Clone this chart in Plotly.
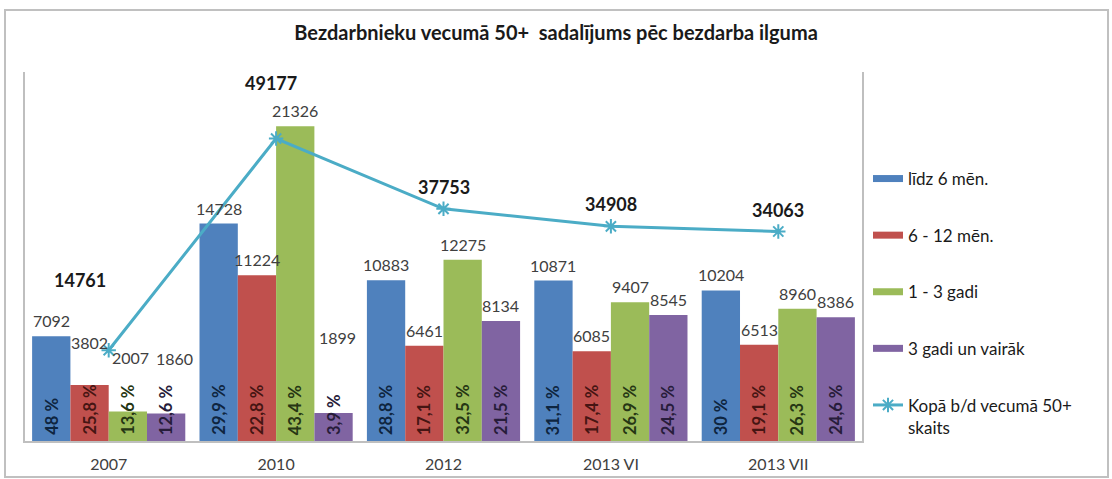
import plotly.graph_objects as go

categories = ["2007", "2010", "2012", "2013 VI", "2013 VII"]
series_names = ["līdz 6 mēn.", "6 - 12 mēn.", "1 - 3 gadi", "3 gadi un vairāk"]
lidz6 = [7092, 14728, 10883, 10871, 10204]
m6_12 = [3802, 11224, 6461, 6085, 6513]
g1_3 = [2007, 21326, 12275, 9407, 8960]
g3plus = [1860, 1899, 8134, 8545, 8386]
pct_lidz6 = ["48 %", "29,9 %", "28,8 %", "31,1 %", "30 %"]
pct_m6_12 = ["25,8 %", "22,8 %", "17,1 %", "17,4 %", "19,1 %"]
pct_g1_3 = ["13,6 %", "43,4 %", "32,5 %", "26,9 %", "26,3 %"]
pct_g3plus = ["12,6 %", "3,9 %", "21,5 %", "24,5 %", "24,6 %"]
total_name = "Kopā b/d vecumā 50+<br>skaits"
total = [14761, 49177, 37753, 34908, 34063]
title = "Bezdarbnieku vecumā 50+  sadalījums pēc bezdarba ilguma"

FONT = "Lato"
bar_colors = ["#4F81BD", "#C0504D", "#9BBB59", "#8064A2"]
pct_colors = ["#0E2540", "#461513", "#263614", "#271C3A"]
line_color = "#4BACC6"

values = [lidz6, m6_12, g1_3, g3plus]
pcts = [pct_lidz6, pct_m6_12, pct_g1_3, pct_g3plus]
xpos = list(range(len(categories)))

# plot area geometry (px)
L, R, T, B = 25, 250, 72, 38
W, H = 1112, 479
pw = W - L - R
ph = H - T - B
bargap = 0.085
cat_px = pw / len(categories)
bar_px = cat_px * (1 - bargap) / 4

fig = go.Figure()
for i in range(4):
    fig.add_trace(go.Bar(
        x=xpos, y=values[i], name=series_names[i],
        marker=dict(color=bar_colors[i], line=dict(width=0)),
        legendgroup=f"g{i}", showlegend=False, hoverinfo="skip",
    ))
    # legend entry drawn as a wide flat bar swatch
    fig.add_trace(go.Scatter(
        x=[None], y=[None], mode="lines", name=series_names[i],
        line=dict(color=bar_colors[i], width=7),
        legendgroup=f"g{i}", hoverinfo="skip",
    ))

fig.add_trace(go.Scatter(
    x=xpos, y=total, name=total_name, yaxis="y2",
    mode="lines+markers",
    line=dict(color=line_color, width=3),
    marker=dict(symbol="asterisk-open", size=12, color=line_color,
                line=dict(color=line_color, width=2)),
    legendgroup="g4", hoverinfo="skip",
))

annotations = []
# percentage labels, rotated, at the foot of each bar
for i in range(4):
    for j in xpos:
        annotations.append(dict(
            x=j, y=0, xref="x", yref="y",
            text=pcts[i][j], showarrow=False, textangle=-90,
            xanchor="center", yanchor="bottom",
            xshift=(i - 1.5) * bar_px, yshift=4,
            font=dict(family=FONT, size=16.5, color=pct_colors[i], weight="bold"),
        ))

# value label nudges (px): (series, category) -> (dx, dy)
nudges = {(1, 0): (0, -27), (2, 0): (3, -38), (3, 0): (8, -40), (3, 1): (4, -60)}
for i in range(4):
    for j in xpos:
        dx, dy = nudges.get((i, j), (0, 0))
        annotations.append(dict(
            x=j, y=values[i][j], xref="x", yref="y",
            text=str(values[i][j]), showarrow=False,
            xanchor="center", yanchor="bottom",
            xshift=(i - 1.5) * bar_px + dx, yshift=4 - dy,
            font=dict(family=FONT, size=16, color="#404040"),
        ))

line_nudges = {0: (-29, -48), 1: (-5, -34)}
for j in xpos:
    dx, dy = line_nudges.get(j, (0, 0))
    annotations.append(dict(
        x=j, y=total[j], xref="x", yref="y2",
        text=str(total[j]), showarrow=False,
        xanchor="center", yanchor="middle",
        xshift=dx, yshift=22 - dy,
        font=dict(family=FONT, size=18, color="#1a1a1a", weight="bold"),
    ))

frame = dict(type="rect", xref="paper", yref="paper",
             x0=(5 - L) / pw, x1=(1108 - L) / pw,
             y0=(H - B - 477) / ph, y1=(H - B - 10) / ph,
             line=dict(color="#C0C0C0", width=2), fillcolor="rgba(0,0,0,0)", layer="below")

fig.update_layout(
    width=W, height=H,
    margin=dict(l=L, r=R, t=T, b=B, autoexpand=False),
    paper_bgcolor="white", plot_bgcolor="white",
    barmode="group", bargap=bargap, bargroupgap=0,
    title=dict(text=f"<b>{title}</b>", x=0.5, xref="container", xanchor="center",
               y=1 - 33 / H, yref="container", yanchor="middle",
               font=dict(family=FONT, size=20, color="#1a1a1a")),
    xaxis=dict(type="linear", range=[-0.5, len(categories) - 0.5],
               tickmode="array", tickvals=xpos, ticktext=categories,
               showline=True, linecolor="#BFBFBF", linewidth=1.5, ticks="",
               tickfont=dict(family=FONT, size=16, color="#404040"),
               ticklabelstandoff=8, showgrid=False, zeroline=False),
    yaxis=dict(range=[0, 25000], showline=True, linecolor="#BFBFBF", linewidth=1.5,
               showticklabels=False, ticks="", showgrid=False, zeroline=False),
    yaxis2=dict(range=[0, 60000], overlaying="y", side="right", showline=True,
                linecolor="#BFBFBF", linewidth=1.5, showticklabels=False, ticks="",
                showgrid=False, zeroline=False),
    legend=dict(x=(868 - L) / pw, y=(H - B - 161) / ph, xanchor="left", yanchor="top",
                traceorder="grouped", tracegroupgap=31.5, valign="top",
                font=dict(family=FONT, size=17, color="#1a1a1a"),
                bgcolor="rgba(0,0,0,0)", itemwidth=30),
    annotations=annotations,
    shapes=[frame],
    showlegend=True,
)

fig.write_html("out.html", config={"displayModeBar": False},
               post_script="document.body.style.margin='0px';")
